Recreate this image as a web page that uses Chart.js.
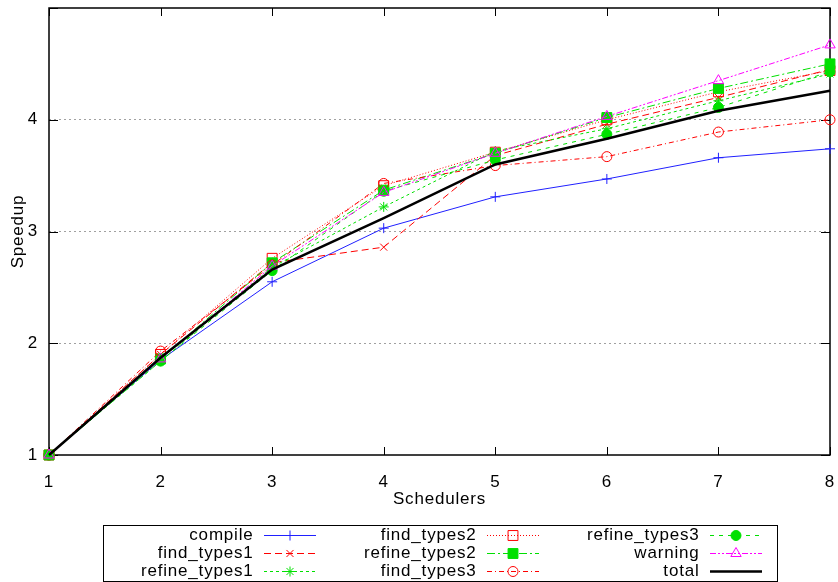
<!DOCTYPE html>
<html>
<head>
<meta charset="utf-8">
<script src="https://cdn.jsdelivr.net/npm/chart.js@4"></script>
<style>
  body { margin: 0; background: #fff; }
  canvas { display: block; }
</style>
</head>
<body>
<canvas id="speedup" width="838" height="582"></canvas>
<script>
var schedulers = ["1", "2", "3", "4", "5", "6", "7", "8"];
var yTicks = [1, 2, 3, 4, 5];

var compile       = [1, 1.85, 2.55, 3.03, 3.31, 3.47, 3.66, 3.74];
var findTypes1    = [1, 1.90, 2.72, 2.86, 3.68, 3.96, 4.20, 4.45];
var refineTypes1  = [1, 1.84, 2.68, 3.22, 3.72, 3.92, 4.17, 4.41];
var findTypes2    = [1, 1.90, 2.76, 3.41, 3.71, 4.00, 4.25, 4.44];
var refineTypes2  = [1, 1.86, 2.72, 3.37, 3.70, 4.02, 4.28, 4.50];
var findTypes3    = [1, 1.93, 2.70, 3.43, 3.59, 3.67, 3.89, 4.00];
var refineTypes3  = [1, 1.84, 2.65, 3.36, 3.64, 3.87, 4.11, 4.43];
var warning       = [1, 1.86, 2.69, 3.35, 3.70, 4.03, 4.35, 4.67];
var total         = [1, 1.87, 2.66, 3.12, 3.60, 3.83, 4.08, 4.26];

var RED = "#ff0000", GREEN = "#00e000", BLUE = "#2020ff", MAGENTA = "#ff00ff";
var FONT = '"Liberation Sans", Arial, sans-serif';
var SPACING = "0.8px";

function series(label, data, color, dash, style, radius, filled, width) {
  return {
    label: label,
    data: data,
    borderColor: color,
    borderWidth: width || 1,
    borderDash: dash,
    pointStyle: style,
    pointRadius: style ? radius : 0,
    pointBorderWidth: 1,
    pointBorderColor: color,
    pointBackgroundColor: filled ? color : "rgba(0,0,0,0)",
    fill: false,
    tension: 0,
    clip: false
  };
}

var datasets = [
  series("compile", compile, BLUE, [], "cross", 5, false),
  series("find_types1", findTypes1, RED, [7, 4], "crossRot", 5, false),
  series("refine_types1", refineTypes1, GREEN, [3, 3], "star", 5, false),
  series("find_types2", findTypes2, RED, [1, 2], "rect", 7, false),
  series("refine_types2", refineTypes2, GREEN, [8, 3, 2, 3], "rect", 7, true),
  series("find_types3", findTypes3, RED, [5, 3, 1, 3], "circle", 5, false),
  series("refine_types3", refineTypes3, GREEN, [4, 5], "circle", 5, true),
  series("warning", warning, MAGENTA, [6, 2, 2, 2, 2, 2], "triangle", 6, false),
  series("total", total, "#000000", [], false, 0, false, 2.5)
];
// later series on top, as gnuplot draws them
for (var i = 0; i < datasets.length; i++) {
  datasets[i].order = datasets.length - 1 - i;
}

// gnuplot's font is a bit wider than Liberation Sans
var spacingPlugin = {
  id: "spacing",
  beforeDraw: function(chart) { chart.ctx.letterSpacing = SPACING; }
};

// border and inward tick marks
var framePlugin = {
  id: "frame",
  beforeDatasetsDraw: function(chart) {
    var ctx = chart.ctx, a = chart.chartArea;
    var xs = chart.scales.x, ys = chart.scales.y;
    ctx.save();
    ctx.setLineDash([]);
    ctx.strokeStyle = "#000";
    ctx.lineWidth = 1;
    ctx.beginPath();
    for (var i = 0; i < schedulers.length; i++) {
      var px = Math.round(xs.getPixelForValue(i)) + 0.5;
      ctx.moveTo(px, a.bottom); ctx.lineTo(px, a.bottom - 8);
      ctx.moveTo(px, a.top); ctx.lineTo(px, a.top + 8);
    }
    for (var j = 0; j < yTicks.length; j++) {
      var py = Math.round(ys.getPixelForValue(yTicks[j])) + 0.5;
      ctx.moveTo(a.left, py); ctx.lineTo(a.left + 9, py);
      ctx.moveTo(a.right, py); ctx.lineTo(a.right - 9, py);
    }
    ctx.stroke();
    ctx.lineWidth = 1.5;
    ctx.strokeRect(a.left, a.top, a.right - a.left, a.bottom - a.top);
    ctx.restore();
  }
};

// gnuplot style key: label right-aligned, then a line sample with its marker
var keyPlugin = {
  id: "key",
  afterDraw: function(chart) {
    var ctx = chart.ctx;
    var boxL = 103, boxT = 525, boxW = 674, boxH = 56, colW = 223, rowH = 18;
    ctx.save();
    ctx.setLineDash([]);
    ctx.strokeStyle = "#000";
    ctx.lineWidth = 1;
    ctx.strokeRect(boxL + 0.5, boxT + 0.5, boxW, boxH);
    ctx.font = "17px " + FONT;
    ctx.letterSpacing = SPACING;
    ctx.textAlign = "right";
    ctx.textBaseline = "middle";
    chart.data.datasets.forEach(function(ds, k) {
      var col = Math.floor(k / 3), row = k % 3;
      var x0 = boxL + col * colW;
      var y = boxT + 10 + row * rowH;
      ctx.fillStyle = "#000";
      ctx.fillText(ds.label, x0 + 150.5, y);
      ctx.strokeStyle = ds.borderColor;
      ctx.lineWidth = ds.borderWidth;
      ctx.setLineDash(ds.borderDash || []);
      ctx.beginPath();
      ctx.moveTo(x0 + 161, y + 0.5);
      ctx.lineTo(x0 + 213, y + 0.5);
      ctx.stroke();
      if (ds.pointStyle) {
        ctx.setLineDash([]);
        ctx.lineWidth = 1;
        ctx.fillStyle = ds.pointBackgroundColor;
        ctx.strokeStyle = ds.pointBorderColor;
        Chart.helpers.drawPoint(ctx, {
          pointStyle: ds.pointStyle, rotation: 0,
          radius: ds.pointRadius, borderWidth: 1
        }, x0 + 187, y + 0.5);
      }
    });
    ctx.restore();
  }
};

Chart.defaults.font.family = FONT;
Chart.defaults.font.size = 17;
Chart.defaults.color = "#000";

new Chart(document.getElementById("speedup").getContext("2d"), {
  type: "line",
  data: { labels: schedulers, datasets: datasets },
  options: {
    responsive: false,
    animation: false,
    events: [],
    layout: { padding: { left: 8, top: 7, right: 8, bottom: 72 } },
    plugins: { legend: { display: false }, tooltip: { enabled: false } },
    scales: {
      x: {
        offset: false,
        grid: { display: false, drawTicks: false },
        border: { display: false },
        ticks: { padding: 17, maxRotation: 0, autoSkip: false },
        title: { display: true, text: "Schedulers", padding: 0 },
        afterFit: function(s) {
          s.height = 55;
          s.paddingLeft = 0;
          s.paddingRight = 0;
        }
      },
      y: {
        min: 1,
        max: 5,
        afterBuildTicks: function(s) {
          s.ticks = yTicks.map(function(v) { return { value: v }; });
        },
        ticks: {
          padding: 11,
          callback: function(v) { return v < 5 ? String(v) : ""; }
        },
        grid: {
          drawTicks: false,
          color: function(c) {
            return c.tick && c.tick.value > 1 && c.tick.value < 5 ? "#a0a0a0" : "rgba(0,0,0,0)";
          }
        },
        border: { display: false, dash: [2, 3] },
        title: { display: true, text: "Speedup", padding: 0 },
        afterFit: function(s) {
          s.width = 41;
          s.paddingTop = 0;
          s.paddingBottom = 0;
        }
      }
    }
  },
  plugins: [spacingPlugin, framePlugin, keyPlugin]
});
</script>
</body>
</html>
